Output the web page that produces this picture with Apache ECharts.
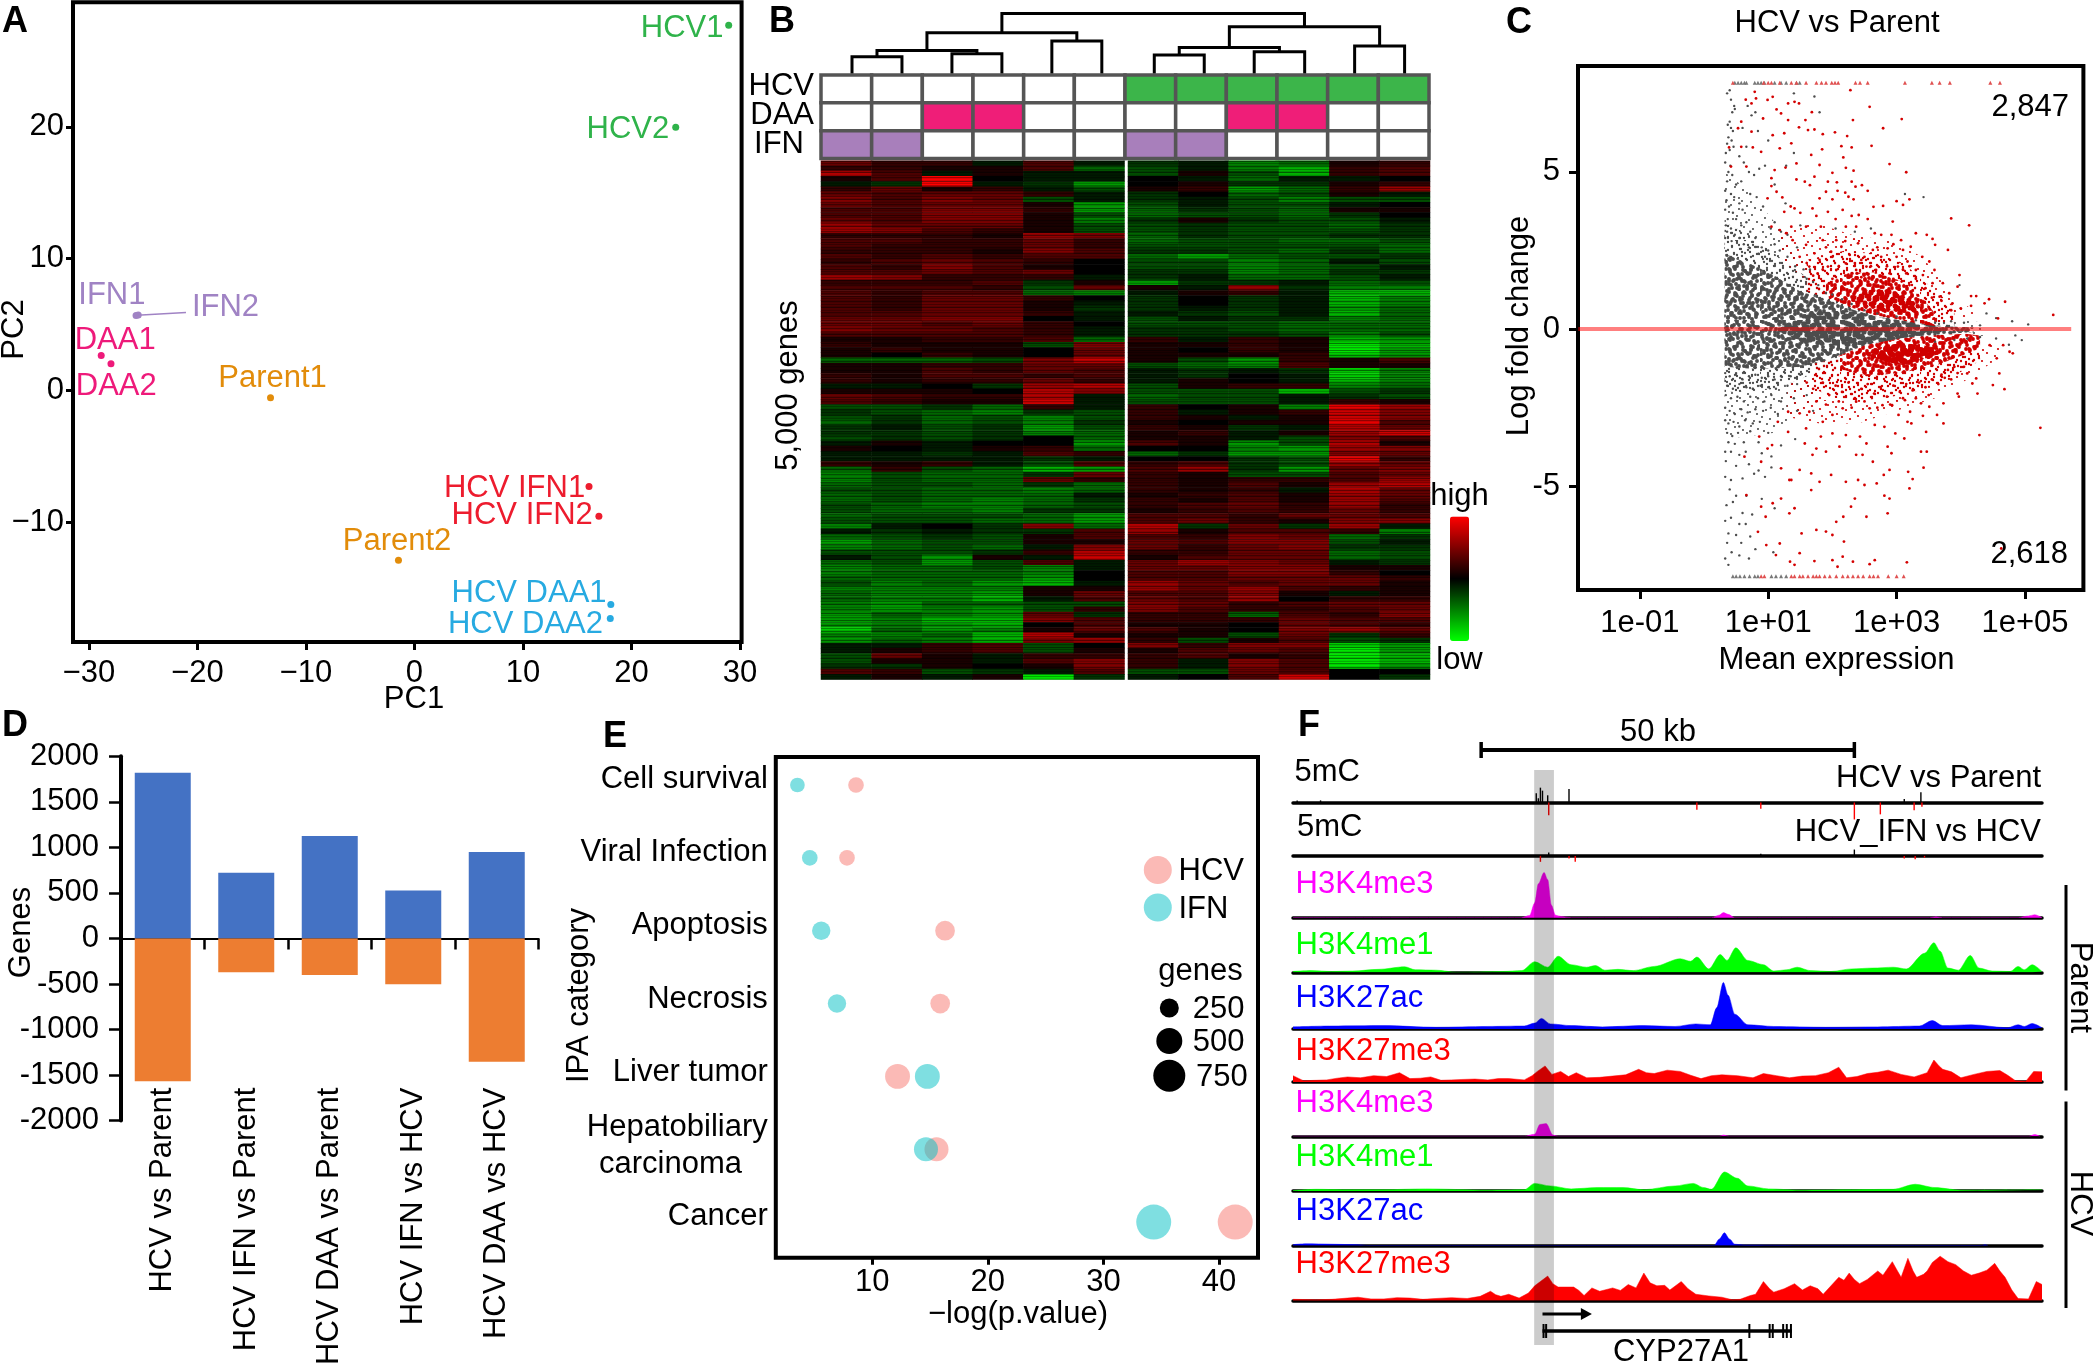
<!DOCTYPE html>
<html><head><meta charset="utf-8">
<style>html,body{margin:0;padding:0;background:#fff}#c{width:2095px;height:1364px}</style>
<script src="https://cdn.jsdelivr.net/npm/echarts@6/dist/echarts.min.js"></script></head>
<body><div id="c"></div><script>
// ---------- Panel A
const pcNames=['HCV1','HCV2','IFN1','IFN2','DAA1','DAA2','Parent1','Parent2','HCV IFN1','HCV IFN2','HCV DAA1','HCV DAA2'];
const pc1=[28.96,24.08,-25.65,-25.45,-28.86,-27.96,-13.26,-1.47,16.09,17.0,18.1,18.05];
const pc2=[27.7,19.96,5.68,5.72,2.64,2.02,-0.55,-12.88,-7.29,-9.55,-16.25,-17.3];
const pcColors=['#2fb34a','#2fb34a','#a083c4','#a083c4','#ee1a7a','#ee1a7a','#e28c0a','#e28c0a','#ed1c2e','#ed1c2e','#27aae1','#27aae1'];
const pcLabelShift=[[-46.6,2.8],[-47.8,2],[-24.2,-19.8],[87.3,-7.2],[14,-14.8],[5.3,22.3],[2,-19],[-1.4,-19],[-74.5,2],[-76.7,-1],[-81.8,-11.6],[-84.8,6]];
const pcLeader=[[-25.55,5.7],[-21.05,5.91]];
const pcTicksX=[-30,-20,-10,0,10,20,30], pcTicksY=[-10,0,10,20];
// ---------- Panel B
const heatRows=[
[4,2,2,-1,3,-1,-2,-1,-5,-4,1,2],[2,2,1,1,3,-4,-3,-1,-5,-7,2,3],[7,3,-1,1,-1,-1,-3,1,-3,-7,2,3],[1,3,10,0,-1,-1,0,-1,-4,-1,-1,0],[-1,-2,10,-1,-2,-6,0,1,-2,-2,1,2],
[2,4,1,2,-1,-3,1,2,-6,-4,2,6],[4,3,4,4,2,-1,-2,0,-4,-3,1,-1],[5,3,5,4,-3,-1,-2,-1,-3,-5,-3,-3],[4,3,4,4,1,-6,-3,-1,-3,-3,-1,0],[3,3,5,5,2,-6,-4,-2,-3,-4,1,1],
[3,3,5,5,1,-3,-4,-3,-3,-4,-2,0],[4,3,5,5,1,-5,-2,1,-2,-3,-3,-1],[6,4,4,4,1,-3,-3,-2,-3,-3,-4,-2],[6,5,3,2,1,-3,-3,-2,-3,-3,-3,-2],[2,2,2,1,6,5,-4,-2,-3,-3,-2,-2],
[3,3,2,2,4,2,-4,-3,-3,-4,-4,-3],[3,2,2,2,4,2,-3,-3,-3,-3,-3,-4],[2,2,2,1,5,3,-2,-2,-3,-4,-2,-4],[3,2,3,2,3,3,-4,-6,-4,-3,-3,-2],[2,3,4,3,2,0,-3,-3,-5,-4,-1,-3],
[3,2,5,3,1,0,-3,-3,-5,-4,-3,-1],[3,3,4,3,4,0,-2,-2,-5,-4,-2,-2],[6,5,2,2,2,-1,-2,-1,-4,-4,-3,-1],[2,2,2,3,-2,1,-6,-2,-2,-1,-4,-3],[3,3,3,2,-3,4,1,-1,6,-2,-5,-5],
[3,2,3,3,-4,-5,-1,1,2,-1,-7,-7],[3,2,4,4,2,0,-2,0,-2,-1,-7,-5],[3,2,4,4,1,-1,-2,0,-2,-1,-7,-5],[3,2,4,4,1,-2,-2,-1,-2,-1,-6,-4],[3,3,4,4,2,-1,-1,-2,-3,-1,-7,-4],
[4,4,5,5,0,-1,-3,-1,-2,-2,-5,-4],[4,4,3,4,2,0,-3,-3,-3,-4,-4,-4],[5,4,4,3,2,-1,-2,-2,-3,-4,-4,-4],[3,3,3,3,2,-1,-2,-2,-2,-3,-5,-3],[1,1,2,2,3,-4,2,-1,2,1,-7,-6],
[2,1,1,1,-3,5,1,1,2,1,-9,-7],[1,2,1,1,0,4,1,0,2,1,-9,-6],[1,0,2,1,0,4,1,1,1,2,-8,-6],[-4,-4,-4,-3,5,8,1,-3,-6,2,1,3],[1,1,2,2,4,4,-3,-4,-5,3,1,1],
[1,1,3,2,4,3,-1,-2,-1,-2,-8,-5],[2,1,3,3,2,3,-1,-2,0,-1,-8,-5],[2,1,2,2,4,2,-1,1,0,-1,-7,-5],[-1,-1,0,-2,6,7,-3,1,2,2,-5,-4],[1,1,1,0,7,5,-3,-3,-3,-7,-3,-2],
[4,3,2,2,7,-1,-4,-3,-3,-1,-2,-3],[3,2,1,1,8,-1,-3,-3,-3,-1,2,1],[-3,-3,-2,-4,2,-1,2,0,1,-5,9,6],[-2,-3,-4,-5,-2,-3,2,-1,1,2,8,5],[-3,-2,-4,-3,-5,-3,2,1,-1,1,8,5],
[-4,-2,-4,-3,-5,-2,1,0,1,1,9,3],[-2,-1,-3,-2,-6,-3,2,1,-2,-1,7,4],[-2,-2,-3,-2,-5,-4,1,2,-1,1,6,8],[-3,-2,-3,-2,0,-4,1,1,-1,-3,5,3],[-1,1,-1,0,0,-6,3,1,-6,-3,7,1],
[1,0,-1,1,2,-4,0,0,-5,-6,6,5],[-1,-1,-2,-1,3,2,-4,-2,-6,-6,5,4],[-1,-1,-1,-1,-2,-1,0,0,-2,-3,9,2],[2,1,2,-1,-3,3,2,3,-2,-3,6,4],[-4,2,-3,-4,-7,-6,3,6,-2,-6,4,5],
[-5,-3,-4,-4,-2,4,2,1,-3,-3,3,4],[-5,-3,-4,-4,4,2,2,1,2,2,3,6],[-4,-3,-3,-4,-2,-4,2,1,3,1,6,7],[-3,-3,-4,-4,-5,-4,2,1,2,-1,7,4],[-4,-3,-4,-4,-4,-1,1,2,3,1,6,4],
[-4,-3,-4,-5,-4,-2,2,1,3,1,6,3],[-3,-4,-5,-5,-4,-3,2,3,4,2,6,2],[-3,-4,-4,-5,-2,-2,1,2,3,2,4,2],[-4,-3,-3,-3,-4,-6,3,3,2,4,4,3],[-3,-3,-3,-4,-4,-6,3,4,2,1,5,5],
[-5,-1,0,-2,5,-4,7,-2,4,-2,6,-1],[-1,-2,-1,-2,-2,3,6,1,3,3,2,-5],[-4,-3,-2,-3,1,3,3,2,5,4,-4,-2],[-6,-4,-3,-3,1,1,4,3,5,5,-3,-1],[-5,-4,-3,-4,-1,5,4,2,4,5,-2,-2],
[-3,-3,-3,-2,2,7,2,2,4,4,-4,-3],[-1,-3,-6,1,-1,8,1,3,4,4,-4,-3],[-4,-3,-6,-3,3,-1,4,6,5,4,-1,-2],[-5,-4,-4,-3,-5,-1,4,4,5,5,1,1],[-5,-4,-4,-4,-5,0,3,3,5,5,2,0],
[-4,-4,-4,-4,-6,0,3,3,4,4,4,2],[-3,-5,-4,-6,-7,-1,6,4,3,4,4,1],[-5,-5,-5,-5,1,1,6,4,6,3,2,1],[-4,-5,-5,-6,1,4,3,3,5,1,-1,1],[-4,-5,-5,-7,-1,3,4,3,6,0,2,2],
[-5,-6,-4,-4,-3,-3,5,4,2,3,4,4],[-5,-6,-5,-6,-3,2,5,3,2,2,3,4],[-6,-4,-5,-6,4,-2,2,2,-4,3,2,5],[-6,-5,-7,-7,5,3,2,2,2,4,3,3],[-6,-5,-6,-7,0,3,1,1,0,4,3,2],
[-8,-4,-6,-5,1,4,3,1,0,5,6,4],[-5,-5,-4,-7,7,1,1,1,-3,4,-2,2],[-6,-4,-5,-7,5,6,2,-3,1,3,-3,-2],[-1,-1,2,3,-3,0,5,2,5,5,-8,-6],[-1,1,2,3,-3,1,1,3,4,3,-9,-6],
[-3,4,1,-1,2,2,2,3,1,2,-9,-7],[-3,1,1,-1,3,5,2,-1,5,3,-9,-7],[-2,-2,1,0,1,5,2,-1,5,3,-9,-6],[3,2,-3,-2,-1,3,-3,-3,4,3,0,0],[-1,1,-1,1,-9,-2,-1,0,3,8,0,-2]];
const annotHCV=[0,0,0,0,0,0,1,1,1,1,1,1], annotDAA=[0,0,1,1,0,0,0,0,1,1,0,0], annotIFN=[1,1,0,0,0,0,1,1,0,0,0,0];
const annotColors=['#3cb54a','#ef1e78','#a87fbb'];
const dendroLeaves=[0,1,2,3,4,5,6.05,7.05,8.05,9.06,10.06,11.06];
const dendroMerges=[[0,1,17],[2,3,20],[12,13,23.2],[4,5,32.6],[14,15,41],[6,7,18.8],[8,9,21.9],[17,18,26.3],[10,11,27.7],[19,20,46.9],[16,21,60.3]];
const heatStripeAlpha=[0,.28,0,.1,.45,.1,0,.32,0,.15,.5,0,.05,.22,0,.38,.1,0,.12,.48,.05,.22,0,.3,.08,0,.42];
// ---------- Panel C (x = log10 mean expression, y = log fold change)
const maTicksX=[-1,1,3,5], maTicksY=[-5,0,5];
const grayHalo=[[.32,5,-3.5],[.7,4.4,-3.4],[1.1,3.4,-3.3],[1.5,2.3,-2.6],[1.9,1.5,-1.8],[2.3,1,-1.2],[2.7,.7,-.8],[3.3,.4,-.45],[3.9,.3,-.3],[4.4,.2,-.2]];
const grayMid=[[.32,3.4,-2],[.7,3,-2],[1.1,2.4,-1.9],[1.5,1.8,-1.6],[1.9,1.2,-1.2],[2.3,.85,-.85],[2.7,.6,-.55],[3.3,.3,-.3],[3.9,.2,-.2]];
const grayInner=[[.32,2.4,-1.2],[.7,2.1,-1.25],[1.1,1.7,-1.25],[1.5,1.2,-1.2],[1.9,.95,-1],[2.27,.65,-.7],[2.66,.42,-.4],[3.05,.28,-.3],[3.44,.13,-.2],[3.83,.08,-.14],[4.2,.05,-.1]];
const grayCore=[[1.15,.08,-.08],[1.6,.5,-.45],[2.2,.6,-.55],[2.8,.35,-.4],[3.3,.2,-.2],[3.7,.1,-.1]];
const redHaloUp=[[1.2,3.2,2.2],[1.7,3.4,1.4],[2.3,3,1],[2.9,2.8,.5],[3.4,2.3,.4],[3.9,1,.3],[4.2,.6,.4]];
const redHaloDown=[[1.3,-1.8,-2.8],[1.8,-1.2,-3],[2.4,-.8,-3],[3,-.5,-2.6],[3.6,-.4,-2.2],[4.1,-.4,-1.6],[4.6,-.5,-.9]];
const redMidUp=[[1.6,2.2,1.2],[2.2,2.5,.8],[2.7,2.4,.5],[3.1,2.1,.35],[3.5,1.4,.25],[3.9,.7,.2]];
const redMidDown=[[1.7,-1.1,-1.9],[2.2,-.9,-2.3],[2.8,-.4,-2.2],[3.3,-.3,-2],[3.8,-.3,-1.6],[4.3,-.4,-1]];
const redUpper=[[1.9,1.45,1.05],[2.27,1.8,.7],[2.65,1.8,.45],[3.05,1.55,.3],[3.4,1,.15],[3.6,.5,.1]];
const redLower=[[2.1,-.85,-1.25],[2.53,-.5,-1.5],[3.05,-.3,-1.4],[3.56,-.2,-1.2],[4.07,-.15,-.8],[4.3,-.2,-.6]];
const redUpperCore=[[2.3,1,.9],[2.55,1.25,.7],[2.9,1.25,.6],[3.2,.95,.5],[3.45,.6,.55]];
const redLowerCore=[[2.55,-.75,-.85],[2.85,-.5,-1.05],[3.1,-.45,-1.15],[3.35,-.5,-1],[3.65,-.6,-.8]];
const grayDots=[.40,7.6,.36,7.5,.42,7.3,.47,7.1,.44,6.9,.40,6.6,.48,7.0,.42,6.4,.37,6.5,.45,6.3,.38,6.1,.43,6.0,.36,5.9,.40,5.7,.46,5.8,.34,5.6,.33,5.3,.41,5.2,.38,5.0,.44,4.9,.36,4.7,.50,4.6,.33,4.4,.42,4.3,.47,4.2,.35,4.1,.39,3.9,.55,4.0,.33,3.8,.45,3.7,.60,3.8,.37,3.5,.50,3.5,.34,3.3,.42,3.2,.58,3.3,.66,3.4,.36,3.1,.48,3.0,.72,3.1,.33,2.9,.55,2.9,.80,2.9,.62,2.7,.43,2.8,.90,2.6,.70,2.6,
.60,6.4,.66,5.8,.68,7.1,.74,6.8,.80,6.9,.84,6.3,.62,5.3,.70,5.0,.78,4.9,.86,5.1,.95,5.2,1.0,6.0,.55,5.5,.58,4.7,.72,4.3,.82,4.2,.92,3.9,1.1,3.4,1.04,3.2,1.2,3.1,1.3,3.0,1.1,2.7,1.18,2.5,1.3,2.3,1.0,2.5,.85,2.4,.95,2.3,1.45,2.6,1.42,2.0,1.55,1.9,1.6,1.6,1.7,1.5,1.78,1.4,1.65,1.9,1.9,1.15,2.0,1.1,2.15,.95,2.3,.8,2.5,.6,2.7,.5,3.0,.4,3.3,.28,3.6,.2,3.85,.25,4.05,.2,4.3,.12,4.55,.35,4.8,.25,5.05,.15,4.4,.5,
1.4,7.5,1.72,7.4,1.8,6.9,1.4,5.6,1.28,5.2,1.1,4.6,1.27,4.0,1.5,3.3,2.05,3.2,2.35,3.1,2.6,3.2,3.13,4.3,3.42,4.2,3.98,1.4,
.33,-1.4,.40,-1.5,.50,-1.4,.60,-1.6,.70,-1.5,.80,-1.45,.90,-1.55,1.0,-1.5,1.1,-1.6,1.2,-1.5,1.35,-1.5,1.5,-1.45,.36,-1.8,.45,-1.9,.55,-1.75,.66,-1.85,.76,-1.9,.88,-1.8,1.0,-1.85,1.12,-1.9,1.3,-1.8,1.45,-1.75,.34,-2.1,.42,-2.2,.52,-2.15,.62,-2.3,.72,-2.15,.84,-2.2,.94,-2.3,1.05,-2.1,1.2,-2.3,1.4,-2.2,1.6,-2.1,.33,-2.5,.40,-2.6,.48,-2.7,.58,-2.55,.68,-2.65,.8,-2.55,.92,-2.6,1.04,-2.5,1.15,-2.7,1.45,-2.6,1.7,-2.6,.33,-2.9,.38,-3.0,.46,-2.95,.55,-3.1,.64,-2.9,.76,-3.0,.87,-2.95,.36,-3.3,.44,-3.4,.53,-3.3,.72,-3.25,1.0,-3.3,.38,-3.6,.48,-3.65,.62,-3.6,.85,-3.6,1.2,-3.7,1.42,-3.5,
.33,-3.9,.42,-3.9,.55,-4.0,.65,-3.9,.9,-3.95,1.05,-4.05,.34,-4.2,.5,-4.35,.7,-4.3,.85,-4.5,1.05,-4.4,.33,-4.7,.42,-4.8,.6,-4.75,.78,-4.6,.95,-4.7,.4,-5.1,.5,-5.3,.66,-5.3,.9,-5.4,.35,-5.6,.45,-5.5,.6,-5.85,.75,-5.9,1.1,-5.7,.33,-6.1,.42,-6.0,.55,-6.2,.65,-6.2,.38,-6.5,.5,-6.55,.72,-6.6,.36,-6.8,.58,-6.8,.8,-7.0,.43,-7.1,.33,-7.3,.55,-7.2,.7,-7.3,.38,-7.5,1.08,-7.1,
3.6,-.4,3.9,-.35,4.1,-.3,4.3,-.25,4.55,-.3,4.85,-.2,4.95,-.35,4.75,-.5];
const redDots=[.81,7.34,.79,7.55,.65,7.3,.74,7.18,.99,7.29,1.07,7.39,1.31,7.18,1.41,7.23,1.48,7.18,1.13,6.99,2.28,7.6,2.58,7.07,1.68,6.9,1.2,6.86,2.32,6.65,3.08,6.68,2.79,6.39,1.58,6.65,1.31,6.65,.92,6.7,.58,6.6,1.72,6.35,1.48,6.42,1.62,6.33,2.04,6.26,1.85,6.2,2.23,6.14,1.25,6.23,1.07,6.17,.74,6.28,.53,6.39,2.61,5.83,2.14,5.82,2.3,5.78,1.84,5.72,1.36,5.91,1.18,5.75,.89,5.64,.76,5.78,.58,5.8,.39,5.78,
2.17,5.46,1.67,5.54,1.44,5.27,1.8,5.22,2.89,5.25,2.21,5.13,2.33,5.04,3.15,4.99,2,4.97,1.27,5.14,1.1,5.06,1.05,4.8,.66,5.17,.42,5.17,1.72,4.85,1.44,4.76,1.57,4.69,2.07,4.67,1.93,4.69,2.3,4.69,1.65,4.58,1.05,4.55,2.36,4.53,2.46,4.58,2.55,4.4,1.9,4.37,2.08,4.4,1.13,4.37,1.22,4.19,2.2,4.34,3.2,4.13,3,4.07,1.8,4.16,2,4.13,2.25,4.21,3.1,3.95,2.79,3.92,2.64,3.89,2.33,4.13,3.85,3.52,4.13,3.3,2.94,3.42,1.41,3.84,1.69,3.84,1.93,3.73,2.16,3.79,2.41,3.63,1.25,3.73,.99,4.16,
3.3,3.05,3.47,3,3.56,2.87,3.6,2.68,3.8,2.52,3.07,2.83,2.92,3,2.76,3,2.66,3.05,2.37,3.26,2.21,3.26,2.06,2.83,1.82,3.26,1.59,3.26,1.36,3.26,1.18,3.15,1.05,3.26,
3.51,2.15,3.59,1.88,3.98,1.72,3.95,1.35,3.72,1.46,3.82,1.14,4.16,1.05,4.24,1.05,4.44,.95,4.37,.82,4.69,.87,3.87,.82,4,.66,4.16,.74,4.58,.34,5.44,.45,3.67,1.03,3.56,1.46,3.41,1.72,3.3,1.88,3.17,2.15,3.22,2.62,3.1,2.52,3,2.3,2.86,2.57,2.76,2.3,2.63,2.52,2.5,2.3,2.4,2.73,2.27,2.36,2.14,2.62,1.98,2.46,1.85,2.83,1.72,2.41,1.59,2.68,1.49,2.3,1.38,2.83,1.28,3.05,
3.15,1.77,3.02,1.99,2.89,1.77,2.68,1.88,2.53,1.99,2.37,1.88,2.21,2.09,2.06,1.88,1.93,1.99,1.77,1.77,1.64,1.99,1.7,1.7,1.85,1.9,2,1.6,2.1,2,2.2,1.7,2.35,2.1,2.45,1.65,2.6,2,2.75,1.7,2.85,2,2.95,1.6,3.1,1.9,3.2,1.4,3.3,1.6,3.45,1.3,3.55,1,3.7,.9,3.85,.6,1.6,2.1,1.8,2.2,1.9,2.6,2,2.3,2.2,2.8,2.45,2.2,2.7,2.6,2.95,2.7,3.2,2,3.4,2.3,2.55,3.5,2.3,3.6,2.05,3.5,1.75,3.6,1.5,3.7,1.35,3.9,
4.45,-.51,4.66,-.51,4.76,-.72,4.81,-.77,4.56,-.93,4.6,-1.41,4.5,-1.78,4.68,-1.91,4.26,-2.05,4.24,-1.57,4.18,-1.73,4.1,-1.41,3.95,-2.05,3.97,-2.15,3.73,-2.36,3.63,-2.73,3.73,-3,3.46,-3.27,4.29,-3.37,5.24,-3.14,3.38,-2.36,3.51,-2.47,3.41,-2.76,3.21,-2.63,3.17,-2.95,3.23,-3,2.98,-3.32,3.12,-3.48,2.92,-3.95,2.86,-3.74,3.38,-3.9,3.47,-3.9,3.42,-4.41,3.18,-4.54,3.25,-4.77,3.2,-5.07,2.89,-4.48,2.8,-4.64,2.69,-4.91,2.81,-5.3,2.89,-5.39,2.86,-5.86,2.63,-4.22,2.47,-4,2.37,-4,2.53,-3.64,2.43,-3.42,2.81,-3.11,2.66,-3.05,3.03,-2.73,2.93,-2.42,3.13,-2.26,2.78,-2.42,2.58,-2.52,2.37,-2.31,2.16,-2.52,2,-2.73,1.85,-2.95,1.64,-2.63,1.49,-2.68,1.31,-2.63,1.59,-3.16,1.82,-3.42,2,-3.32,2.21,-3.37,2.11,-3.74,1.9,-3.9,1.69,-4,1.75,-3.8,1.57,-3.64,1.31,-3.27,1.15,-2.95,1.06,-3.69,.86,-3.42,.99,-3.8,.89,-4.22,1.2,-4.43,1.36,-4.8,1.49,-4.48,1.67,-4.59,1.8,-4.86,1.98,-4.64,2.21,-4.86,2.4,-4.8,2.5,-4.96,2.35,-5.39,2.29,-5.65,2.17,-5.97,2.53,-5.97,2.06,-6.13,1.9,-6.44,2,-6.55,2.18,-6.76,1.75,-6.39,1.52,-6.5,1.33,-5.86,1.41,-5.7,1.67,-5.12,1.33,-4.8,1.2,-5.39,1.07,-5.54,.89,-5.65,.96,-5.97,1.18,-6.82,.97,-6.87,1.12,-7.19,1.34,-7.4,1.49,-7.13,1.41,-7.5,1.72,-7.38,2,-7.35,2.16,-7.24,2.08,-7.56,2.32,-7.4,2.58,-7.48,2.66,-7.35,3.16,-7.42,4.63,-6.98,.84,-6.45,.66,-5.28,.63,-4.06,
1.7,-1.9,1.85,-1.7,1.95,-2.1,2.05,-1.8,2.15,-2,2.25,-1.7,2.35,-2.2,2.45,-1.9,2.55,-1.75,2.65,-2.05,2.75,-1.85,2.85,-2.15,2.95,-1.8,3.05,-2,3.15,-1.75,3.25,-1.95,3.35,-1.7,3.45,-1.85,3.55,-1.6,3.65,-1.75,3.75,-1.55,3.85,-1.6,3.95,-1.4,4.05,-1.2,3.9,-1.2,3.8,-1.3,3.7,-1.45,1.6,-1.7,1.75,-2.3,1.9,-2.4,2.1,-2.3,2.3,-2.5,2.5,-2.3,2.7,-2.5,2.9,-2.4,3.1,-2.2,3.3,-2.2,3.5,-2.1];
const capGrayTop=[.48,.53,.58,.63,.66,.79,.84,.89,.94,1.1,1.2,1.28,1.44,1.49];
const capRedTop=[.45,.93,1,1.05,1.18,1.36,1.44,1.59,1.75,1.83,1.9,1.99,2.04,2.09,2.36,2.43,2.55,3.13,3.55,3.67,3.83,4.46,4.61];
const capGrayBottom=[.45,.5,.56,.63,.71,.79,.84,1.05,1.12,1.2,1.28];
const capRedBottom=[.89,.94,1.36,1.41,1.49,1.54,1.62,1.7,1.75,1.8,1.88,1.96,2.06,2.16,2.24,2.32,2.4,2.48,2.58,2.64,2.71,2.87,3,3.11];
// ---------- Panel D
const deCategories=['HCV vs Parent','HCV IFN vs Parent','HCV DAA vs Parent','HCV IFN vs HCV','HCV DAA vs HCV'];
const deUp=[1819,721,1126,526,949], deDown=[-1567,-372,-400,-502,-1353];
// ---------- Panel E
const ipaCategories=['Cell survival','Viral Infection','Apoptosis','Necrosis','Liver tumor','Hepatobiliary\ncarcinoma\u00a0\u00a0\u00a0','Cancer'];
const ipaLabelAt=[-.08,.92,1.93,2.95,3.95,4.95,5.92];
const hcvP=[8.6,7.82,16.3,15.88,12.19,15.56,41.4], hcvGenes=[170,170,270,270,430,400,850];
const ifnP=[3.53,4.6,5.59,6.95,14.77,14.65,34.35], ifnGenes=[150,170,235,235,430,400,850];
const ipaTicks=[10,20,30,40];
// ---------- Panel F (x = genome bin, y = signal)
const trackBaselines=[917.7,972.3,1029,1082,1136.3,1191,1245.5,1300.6];
const trackColors=['#f800f0','#00ff00','#0000ff','#ff0000','#f800f0','#00ff00','#0000ff','#ff0000'];
const trackLabelColors=['#ff00ff','#00ff00','#0000ff','#ff0000','#ff00ff','#00ff00','#0000ff','#ff0000'];
const trackNames=['H3K4me3','H3K4me1','H3K27ac','H3K27me3','H3K4me3','H3K4me1','H3K27ac','H3K27me3'];
const trackLabelY=[883,943.5,996.5,1050,1102,1156,1209.5,1263];
const trackSmooth=[.3,.3,.3,0,.3,.3,.3,0];
const parentK4me3=[[25,0],[464,0],[480,5],[490,35],[497,80],[508,107],[515,90],[522,30],[530,6],[540,3],[560,0],[830,0],[845,6],[853,12],[862,8],[875,0],[1250,0],[1262,2],[1275,0],[1420,0],[1440,4],[1452,7],[1466,0]];
const parentK4me1=[[25,2],[60,4],[100,2],[140,3],[190,7],[240,13],[260,6],[300,5],[340,0],[430,2],[465,4],[490,25],[515,12],[535,38],[560,18],[590,12],[607,16],[625,5],[650,7],[680,4],[720,14],[770,32],[790,26],[802,36],[825,8],[847,42],[860,28],[877,58],[900,28],[930,18],[950,3],[975,6],[995,12],[1020,4],[1060,2],[1100,8],[1140,10],[1180,12],[1205,8],[1240,45],[1258,70],[1270,50],[1285,10],[1305,5],[1328,40],[1345,10],[1370,3],[1405,2],[1420,14],[1432,6],[1447,18],[1466,2]];
const parentK27ac=[[25,5],[100,7],[200,8],[300,4],[400,6],[470,7],[490,14],[503,25],[520,12],[560,8],[620,5],[700,8],[760,6],[800,12],[828,10],[840,50],[853,110],[862,80],[875,35],[900,10],[950,6],[1050,4],[1150,5],[1230,7],[1255,20],[1275,8],[1330,10],[1400,3],[1420,10],[1432,6],[1447,13],[1466,3]];
const parentK27me3=[[25,15],[45,3],[70,4],[90,5],[110,9],[130,12],[155,10],[180,15],[205,13],[230,22],[250,8],[270,9],[290,12],[310,4],[330,5],[350,6],[375,7],[400,5],[420,8],[440,8],[470,5],[485,15],[495,25],[510,38],[523,18],[540,25],[555,13],[570,22],[590,10],[615,11],[640,14],[665,17],[690,30],[705,22],[720,20],[745,28],[770,25],[790,16],[810,8],[830,15],[850,17],[880,15],[910,10],[930,20],[955,15],[980,10],[1005,14],[1030,15],[1055,22],[1075,35],[1090,10],[1110,13],[1130,20],[1150,23],[1170,28],[1195,18],[1220,12],[1245,22],[1258,52],[1268,38],[1275,30],[1292,24],[1310,10],[1335,18],[1360,25],[1385,27],[1400,16],[1415,3],[1435,2],[1450,25],[1466,24]];
const hcvK4me3=[[25,0],[470,0],[490,5],[500,28],[512,30],[525,3],[535,0],[845,0],[853,3],[865,0],[1440,0],[1452,4],[1462,0]];
const hcvK4me1=[[25,1],[70,4],[120,3],[200,3],[280,5],[400,2],[470,3],[490,18],[520,12],[560,5],[610,8],[660,8],[700,3],[760,12],[795,18],[815,8],[830,4],[855,45],[880,30],[900,12],[940,5],[1000,2],[1100,3],[1180,4],[1222,16],[1260,8],[1310,2],[1466,3]];
const hcvK27ac=[[25,2],[50,4],[150,2],[170,0],[835,0],[845,15],[855,30],[865,15],[875,3],[895,1],[1000,0],[1350,0],[1356,2],[1362,0]];
const hcvK27me3=[[25,3],[70,2],[100,3],[130,6],[150,8],[175,4],[200,4],[225,7],[250,6],[275,3],[300,5],[330,7],[360,5],[385,10],[405,22],[415,14],[425,10],[440,15],[460,6],[478,18],[490,35],[515,58],[525,40],[535,32],[565,32],[575,24],[585,12],[600,30],[615,22],[640,30],[655,24],[670,38],[685,30],[700,65],[712,42],[725,35],[740,36],[750,25],[772,45],[785,28],[800,15],[825,11],[850,8],[870,2],[885,3],[905,12],[915,15],[930,45],[942,28],[950,20],[970,28],[990,40],[1005,25],[1020,35],[1035,28],[1045,15],[1060,35],[1075,55],[1085,48],[1095,65],[1105,50],[1115,40],[1130,50],[1150,70],[1160,60],[1178,92],[1188,70],[1195,55],[1208,100],[1218,70],[1225,55],[1238,62],[1245,70],[1255,90],[1270,105],[1285,92],[1300,85],[1315,70],[1330,60],[1345,65],[1360,72],[1375,88],[1385,70],[1395,55],[1408,25],[1420,5],[1440,4],[1455,45],[1466,38]];
const trackValues=[parentK4me3,parentK4me1,parentK27ac,parentK27me3,hcvK4me3,hcvK4me1,hcvK27ac,hcvK27me3];
const mC1Up=[[33,5],[78,5],[493,22],[497,10],[501,35],[505,28],[515,17],[556,32],[1201,8],[1233,24]];
const mC1Down=[[517,-30],[802,-17],[925,-15],[1105,-40],[1155,-28],[1220,-18],[1235,-10]];
const mC2Up=[[517,8],[925,5],[1105,15]];
const mC2Down=[[501,-14],[556,-6],[568,-14],[1201,-6],[1222,-8],[1240,-4]];
const geneExons=[507,512,903,942,948,968,975,983];

// ---------- helpers
const FF='"Liberation Sans"';
const pairs=a=>{const o=[];for(let i=0;i<a.length;i+=2)o.push([a[i],a[i+1]]);return o;};
const specks=[[3,2],[11,5],[19,1],[27,6],[35,3],[6,10],[15,12],[23,9],[31,13],[38,10],[2,17],[10,19],[18,16],[26,20],[34,18],[7,24],[14,26],[22,23],[30,27],[37,25],[4,31],[12,33],[20,30],[28,34],[36,32],[8,37],[17,38],[25,39],[33,37]];
const specksBig=specks.concat(specks.map(d=>[d[0]+40,39-d[1]]),specks.map(d=>[39-d[0],d[1]+40]),specks.map(d=>[79-d[0],79-d[1]]));
const shifted=(dx,dy)=>specksBig.map(d=>[(d[0]+dx)%80,(d[1]+dy)%80]);
const density1=specksBig, density3=specksBig.concat(shifted(13,7),shifted(27,21)), density4=density3.concat(shifted(5,33));
const tile=(base,dots,dotColor,r)=>{const c=document.createElement('canvas');c.width=c.height=80;const x=c.getContext('2d');if(base){x.fillStyle=base;x.fillRect(0,0,80,80);}x.fillStyle=dotColor;
  dots.forEach(d=>{x.beginPath();x.arc(d[0],d[1],r,0,7);x.fill();});return {image:c,repeat:'repeat'};};
const stripeTile=()=>{const c=document.createElement('canvas');c.width=4;c.height=heatStripeAlpha.length;const x=c.getContext('2d');heatStripeAlpha.forEach((a,i)=>{x.fillStyle='rgba(0,0,0,'+a+')';x.fillRect(0,i,4,1);});return {image:c,repeat:'repeat'};};
const grids=[],xAxes=[],yAxes=[],series=[],gfx=[];
const addG=(g,x,y)=>{g.outerBoundsMode='none';grids.push(g);x.gridIndex=grids.length-1;y.gridIndex=grids.length-1;xAxes.push(x);yAxes.push(y);return grids.length-1;};
const T=(x,y,text,o={})=>gfx.push({type:'text',x,y:y+1.5,rotation:o.rot||0,silent:true,z:50,style:{text,fill:o.fill||'#000',font:(o.bold?'bold ':'')+(o.size||31)+'px '+FF,align:o.align||'center',verticalAlign:'middle'}});
const frame={show:true,borderColor:'#000',borderWidth:4,backgroundColor:'transparent'};
const lbl={color:'#000',fontSize:31,fontFamily:FF};
const lblY={...lbl,padding:[4,0,0,0]};
const minus=v=>String(v).replace('-','\u2212');
const envelope=(env,fill,xi,z)=>({type:'custom',coordinateSystem:'cartesian2d',xAxisIndex:xi,yAxisIndex:xi,silent:true,z,data:env,
  renderItem:(p,api)=>{if(p.dataIndex!==0)return;const pts=env.map(r=>api.coord([r[0],r[1]])).concat(env.slice().reverse().map(r=>api.coord([r[0],r[2]])));
    return {type:'polygon',shape:{points:pts},style:{fill}};}});

// ---------- A
const gA=addG({left:73,top:2.3,width:668.6,height:639.7,...frame},
 {type:'value',min:-31.46,max:30.15,splitLine:{show:false},axisLine:{show:false,onZero:false},axisTick:{show:true,length:8,lineStyle:{width:3,color:'#000'},customValues:pcTicksX},axisLabel:{...lbl,margin:16,customValues:pcTicksX,formatter:minus}},
 {type:'value',min:-19.09,max:29.45,splitLine:{show:false},axisLine:{show:false,onZero:false},axisTick:{show:true,length:7,lineStyle:{width:3,color:'#000'},customValues:pcTicksY},axisLabel:{...lblY,margin:9,customValues:pcTicksY,formatter:minus}});
series.push({type:'line',xAxisIndex:gA,yAxisIndex:gA,data:pcLeader,showSymbol:false,silent:true,lineStyle:{color:'#a083c4',width:1.5}});
series.push({type:'scatter',xAxisIndex:gA,yAxisIndex:gA,symbolSize:7,silent:true,data:pcNames.map((n,i)=>({value:[pc1[i],pc2[i]],itemStyle:{color:pcColors[i],opacity:1},
  label:{show:true,position:'inside',offset:pcLabelShift[i],formatter:n,color:pcColors[i],fontSize:31,fontFamily:FF}}))});
T(414,697.5,'PC1');T(14.5,328,'PC2',{rot:Math.PI/2});T(15,21,'A',{bold:1,size:36});

// ---------- B
const gDen=addG({left:852,top:13,width:552.6,height:60.7},{type:'value',show:false,min:0,max:11.06},{type:'value',show:false,min:0,max:60.7});
const nodes=dendroLeaves.map(x=>({x,h:0}));
series.push({type:'custom',coordinateSystem:'cartesian2d',xAxisIndex:gDen,yAxisIndex:gDen,silent:true,data:dendroMerges,clip:false,
  renderItem:(p,api)=>{const m=dendroMerges[p.dataIndex];const a=nodes[m[0]],b=nodes[m[1]];
    if(nodes.length<=12+p.dataIndex)nodes[12+p.dataIndex]={x:(a.x+b.x)/2,h:m[2]};
    return {type:'polyline',shape:{points:[api.coord([a.x,a.h]),api.coord([a.x,m[2]]),api.coord([b.x,m[2]]),api.coord([b.x,b.h])]},style:{stroke:'#000',lineWidth:3,fill:null}};}});
const gAnn=addG({left:821,top:75,width:608,height:83.5},{type:'value',show:false,min:0,max:12},{type:'value',show:false,min:0,max:3,inverse:true});
const annotCells=[];[annotHCV,annotDAA,annotIFN].forEach((r,ri)=>r.forEach((v,c)=>annotCells.push([c,ri,v])));
series.push({type:'custom',coordinateSystem:'cartesian2d',xAxisIndex:gAnn,yAxisIndex:gAnn,silent:true,data:annotCells,clip:false,
  renderItem:(p,api)=>{const c=annotCells[p.dataIndex];const a=api.coord([c[0],c[1]]),b=api.coord([c[0]+1,c[1]+1]);
    return {type:'rect',shape:{x:a[0],y:a[1],width:b[0]-a[0],height:b[1]-a[1]},style:{fill:c[2]?annotColors[c[1]]:'#fff',stroke:'#555',lineWidth:3.5}};}});
const heatIdx=[];
[[821,303.5,0],[1128,302,6]].forEach(([left,width,start])=>{
  const g=addG({left,top:160.7,width,height:518.8},{type:'category',show:false,data:[0,1,2,3,4,5]},{type:'category',show:false,inverse:true,data:heatRows.map((r,i)=>i)});
  const data=[];heatRows.forEach((r,ri)=>{for(let c=0;c<6;c++)data.push([c,ri,r[start+c]]);});
  heatIdx.push(series.length);
  series.push({type:'heatmap',xAxisIndex:g,yAxisIndex:g,data,silent:true,progressive:0,emphasis:{disabled:true},z:2});
  const fill=stripeTile();
  series.push({type:'custom',coordinateSystem:'cartesian2d',xAxisIndex:g,yAxisIndex:g,silent:true,z:3,data:[[0,0]],
    renderItem:(p,api)=>({type:'rect',shape:{x:left,y:160.7,width,height:518.8},style:{fill}})});
});
T(814,85,'HCV',{align:'right'});T(814,114,'DAA',{align:'right'});T(804,143,'IFN',{align:'right'});
T(788,384,'5,000 genes',{rot:Math.PI/2});T(1459.5,494.6,'high');T(1459.5,659,'low');T(782,21,'B',{bold:1,size:36});

// ---------- C
const gC=addG({left:1578,top:66,width:505.4,height:524,...frame},
 {type:'value',min:-1.963,max:5.91,splitLine:{show:false},axisLine:{show:false,onZero:false},axisTick:{show:true,length:9,lineStyle:{width:3,color:'#000'},customValues:maTicksX},axisLabel:{...lbl,margin:18,customValues:maTicksX,formatter:v=>'1e'+(v<0?'-':'+')+String(Math.abs(v)).padStart(2,'0')}},
 {type:'value',min:-8.3,max:8.37,splitLine:{show:false},axisLine:{show:false,onZero:false},axisTick:{show:true,length:9,lineStyle:{width:3,color:'#000'},customValues:maTicksY},axisLabel:{...lbl,padding:[6,0,0,0],margin:18,customValues:maTicksY}});
const GR='#4d4d4d', RD='#cf0000';
series.push(envelope(grayHalo,tile(null,density1,GR,1.05),gC,2),envelope(grayMid,tile(null,density3,GR,1.15),gC,2),envelope(grayInner,tile(null,density4,GR,1.95),gC,2),envelope(grayCore,tile(null,density4,GR,2.6),gC,2),
  envelope(redHaloUp,tile(null,density1,RD,1.1),gC,3),envelope(redHaloDown,tile(null,density1,RD,1.1),gC,3),envelope(redMidUp,tile(null,density3,RD,1.2),gC,3),envelope(redMidDown,tile(null,density3,RD,1.2),gC,3),
  envelope(redUpper,tile(null,density4,RD,1.9),gC,3),envelope(redLower,tile(null,density4,RD,1.9),gC,3),envelope(redUpperCore,tile(null,density4,RD,2.5),gC,3),envelope(redLowerCore,tile(null,density4,RD,3),gC,3));
const dot=(data,color,size,symbol)=>({type:'scatter',xAxisIndex:gC,yAxisIndex:gC,silent:true,z:4,symbol:symbol||'circle',symbolSize:size,data,itemStyle:{color,opacity:1}});
series.push(dot(pairs(grayDots),GR,2.4),dot(pairs(redDots),'#d40000',2.8),
  dot(capGrayTop.map(x=>[x,7.84]),'#777',4,'triangle'),dot(capRedTop.map(x=>[x,7.84]),'#e05050',4,'triangle'),
  dot(capGrayBottom.map(x=>[x,-7.86]),'#777',4,'triangle'),dot(capRedBottom.map(x=>[x,-7.86]),'#e05050',4,'triangle'));
series.push({type:'line',xAxisIndex:gC,yAxisIndex:gC,z:5,silent:true,showSymbol:false,data:[[-1.96,0],[5.72,0]],lineStyle:{color:'rgba(255,0,0,.5)',width:4}});
T(1837,22,'HCV vs Parent');T(1836.5,658.5,'Mean expression');T(1519,324.5,'Log fold change',{rot:Math.PI/2});
T(2069,106,'2,847',{align:'right'});T(2068,552.7,'2,618',{align:'right'});T(1519,22,'C',{bold:1,size:36});

// ---------- D
const gD=addG({left:121,top:756.3,width:417.5,height:364.3},
 {type:'category',data:deCategories,axisLine:{onZero:true,lineStyle:{color:'#000',width:2}},axisTick:{show:true,length:11,lineStyle:{width:2.5,color:'#000'}},axisLabel:{...lbl,rotate:90,margin:-33,interval:0}},
 {type:'value',min:-2000,max:2000,interval:500,splitLine:{show:false},axisLine:{show:true,lineStyle:{color:'#000',width:4}},axisTick:{show:true,length:12,lineStyle:{width:2.5,color:'#000'}},axisLabel:{...lblY,margin:22,formatter:v=>String(v)}});
const barS=(data,color)=>({type:'bar',xAxisIndex:gD,yAxisIndex:gD,data,barWidth:56,barGap:'-100%',silent:true,itemStyle:{color}});
series.push(barS(deUp,'#4472c4'),barS(deDown,'#ed7d31'));
T(21,931,'Genes',{rot:Math.PI/2});T(15,725,'D',{bold:1,size:36});

// ---------- E
const gE=addG({left:775.8,top:757,width:482.2,height:500.8,...frame},
 {type:'value',min:1.66,max:43.37,splitLine:{show:false},axisLine:{show:false,onZero:false},axisTick:{show:true,length:7,lineStyle:{width:3,color:'#000'},customValues:ipaTicks},axisLabel:{...lbl,margin:9,customValues:ipaTicks}},
 {type:'value',inverse:true,min:-.384,max:6.49,splitLine:{show:false},axisLine:{show:false,onZero:false},axisTick:{show:false},axisLabel:{...lbl,margin:8,lineHeight:37,customValues:ipaLabelAt,formatter:v=>ipaCategories[ipaLabelAt.indexOf(v)]}});
const geneDiam=g=>1.2*Math.sqrt(g);
const bub=(xs,gs,color)=>({type:'scatter',xAxisIndex:gE,yAxisIndex:gE,silent:true,itemStyle:{color,opacity:.5},data:xs.map((x,i)=>({value:[x,i],symbolSize:geneDiam(gs[i])}))});
series.push(bub(hcvP,hcvGenes,'#f8766d'),bub(ifnP,ifnGenes,'#00bfc4'));
const C=(x,y,r,fill)=>gfx.push({type:'circle',silent:true,z:50,shape:{cx:x,cy:y,r},style:{fill}});
C(1157.8,870,14,'#fbbab6');C(1157.8,907.5,14,'#80dfe2');T(1178.5,870,'HCV',{align:'left'});T(1178.5,907.5,'IFN',{align:'left'});
T(1200.5,970,'genes');C(1169.3,1008,9.5,'#000');C(1169.3,1041,13,'#000');C(1169.3,1075.7,16,'#000');
T(1192.7,1008,'250',{align:'left'});T(1192.7,1041,'500',{align:'left'});T(1196,1075.7,'750',{align:'left'});
T(579,994,'IPA category',{rot:Math.PI/2});T(1018,1313,'\u2212log(p.value)');T(615,736,'E',{bold:1,size:36});

// ---------- F
const trkX=()=>({type:'value',min:25,max:1466,splitLine:{show:false},axisTick:{show:false},axisLabel:{show:false},axisLine:{show:true,onZero:true,lineStyle:{color:'#000',width:3.5}}});
[[802.5,mC1Up,mC1Down],[855.9,mC2Up,mC2Down]].forEach(([base,up,down])=>{
  const g=addG({left:1293,top:base-30,width:749,height:60},trkX(),{type:'value',show:false,min:-70.8,max:70.8});
  [[up,'#000'],[down,'#ff0000']].forEach(([d,c])=>series.push({type:'bar',xAxisIndex:g,yAxisIndex:g,data:d,barWidth:1.4,barGap:'-100%',silent:true,itemStyle:{color:c}}));
});
trackValues.forEach((d,i)=>{
  const g=addG({left:1293,top:trackBaselines[i]-55,width:749,height:55},trkX(),{type:'value',show:false,min:0,max:130});
  series.push({type:'line',xAxisIndex:g,yAxisIndex:g,data:d,showSymbol:false,silent:true,smooth:trackSmooth[i],smoothMonotone:'x',lineStyle:{width:.5,color:trackColors[i]},areaStyle:{color:trackColors[i],opacity:1}});
  T(1295.6,trackLabelY[i],trackNames[i],{align:'left',fill:trackLabelColors[i]});
});
const gOv=addG({left:1293,top:740,width:749,height:620},{type:'value',show:false,min:25,max:1466},{type:'value',show:false,min:0,max:620,inverse:true});
const ovSegs=[[387,10,1105,10,4],[387,2,387,18,3.5],[1105,2,1105,18,3.5],[505,591,985,591,3.5],[505,574,585,574,3]].concat(geneExons.map(x=>[x,584,x,598,2]));
series.push({type:'custom',coordinateSystem:'cartesian2d',xAxisIndex:gOv,yAxisIndex:gOv,silent:true,clip:false,z:9,data:[[489,30,527,605]],
  renderItem:(p,api)=>{const a=api.coord([489,30]),b=api.coord([527,605]);return {type:'rect',shape:{x:a[0],y:a[1],width:b[0]-a[0],height:b[1]-a[1]},style:{fill:'rgba(0,0,0,.2)'}};}});
series.push({type:'custom',coordinateSystem:'cartesian2d',xAxisIndex:gOv,yAxisIndex:gOv,silent:true,clip:false,z:10,data:ovSegs,
  renderItem:(p,api)=>{const s=ovSegs[p.dataIndex];const a=api.coord([s[0],s[1]]),b=api.coord([s[2],s[3]]);return {type:'line',shape:{x1:a[0],y1:a[1],x2:b[0],y2:b[1]},style:{stroke:'#000',lineWidth:s[4]}};}});
series.push({type:'custom',coordinateSystem:'cartesian2d',xAxisIndex:gOv,yAxisIndex:gOv,silent:true,clip:false,z:10,data:[[600,574]],
  renderItem:(p,api)=>{const t=api.coord([600,574]);return {type:'polygon',shape:{points:[t,[t[0]-11,t[1]-6],[t[0]-11,t[1]+6]]},style:{fill:'#000'}};}});
T(1658,731,'50 kb');T(1294.5,770.7,'5mC',{align:'left'});T(1297,825.8,'5mC',{align:'left'});
T(2041,777,'HCV vs Parent',{align:'right'});T(2041,831,'HCV_IFN vs HCV',{align:'right'});
T(1681,1351,'CYP27A1');T(2080,986,'Parent',{rot:-Math.PI/2});T(2080,1202,'HCV',{rot:-Math.PI/2});T(1309,724.6,'F',{bold:1,size:36});
[[885,1090.5],[1101.5,1308]].forEach(([y1,y2])=>gfx.push({type:'line',silent:true,z:50,shape:{x1:2066,y1,x2:2066,y2},style:{stroke:'#000',lineWidth:3}}));

const chart=echarts.init(document.getElementById('c'),null,{renderer:'canvas'});
chart.setOption({animation:false,backgroundColor:'#fff',textStyle:{fontFamily:FF},tooltip:{show:false},
  grid:grids,xAxis:xAxes,yAxis:yAxes,series,graphic:{elements:gfx},
  visualMap:{type:'continuous',min:-10,max:10,seriesIndex:heatIdx,inRange:{color:['#00ff00','#000000','#ff0000']},left:1450,top:516.5,itemWidth:19,itemHeight:124.5,text:null,padding:0,calculable:false,hoverLink:false,showLabel:false}});
</script></body></html>
